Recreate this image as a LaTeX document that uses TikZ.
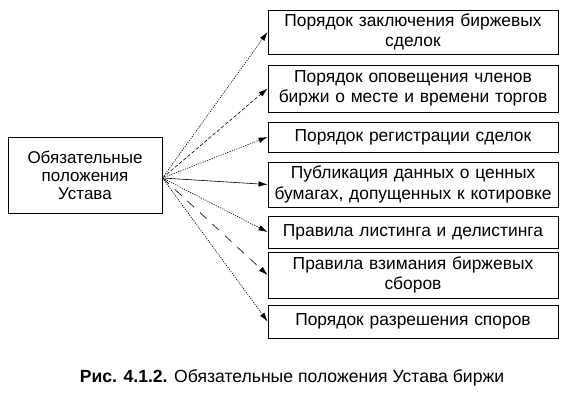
\documentclass[tikz,border=0pt]{standalone}
\usepackage{fontspec}
\setmainfont{Liberation Sans}
\usetikzlibrary{arrows.meta,calc}
\begin{document}
\begin{tikzpicture}[x=1pt,y=-1pt,
  rbox/.style={draw,line width=0.9pt,minimum width=290pt,inner sep=0pt,text width=289pt,align=center,font=\fontsize{17.4}{20.5}\selectfont},
  lbox/.style={draw,line width=0.9pt,minimum width=154pt,minimum height=76pt,inner sep=0pt,text width=150pt,align=center,font=\fontsize{17}{18}\selectfont},
  conn/.style={line width=0.6pt,-{Latex[length=9pt,width=5.5pt]}},
  fdot/.style={dash pattern=on 1.2pt off 1.2pt},
  sdash/.style={dash pattern=on 3.5pt off 2pt},
  ldash/.style={dash pattern=on 9pt off 8pt}]
\useasboundingbox (0,0) rectangle (576,411);
\node[lbox] (L) at (85,175) {Обязательные\\положения\\Устава};
\node[rbox,minimum height=44pt] (b1) at (413,32) {Порядок заключения биржевых\\сделок};
\node[rbox,minimum height=47pt] (b2) at (413,88.5) {Порядок оповещения членов\\биржи о месте и времени торгов};
\node[rbox,minimum height=30pt] (b3) at (413,137) {Порядок регистрации сделок};
\node[rbox,minimum height=45pt] (b4) at (413,184.5) {Публикация данных о ценных\\бумагах, допущенных к котировке};
\node[rbox,minimum height=32pt] (b5) at (413,232) {Правила листинга и делистинга};
\node[rbox,minimum height=46pt] (b6) at (413,275) {Правила взимания биржевых\\сборов};
\node[rbox,minimum height=33pt] (b7) at (413,321.5) {Порядок разрешения споров};
\coordinate (src) at ([yshift=-3pt]L.east);
\draw[conn,fdot] (src) -- (b1.west);
\draw[conn,sdash] (src) -- (b2.west);
\draw[conn,fdot] (src) -- (b3.west);
\draw[conn] (src) -- (b4.west);
\draw[conn,fdot] (src) -- (b5.west);
\draw[conn,ldash] (src) -- (b6.west);
\draw[conn,fdot] (src) -- (b7.west);
\node[font=\fontsize{17.6}{19}\selectfont,anchor=center] (cap) at (292,378) {\textbf{Рис. 4.1.2.} Обязательные положения Устава биржи};
\end{tikzpicture}
\end{document}
